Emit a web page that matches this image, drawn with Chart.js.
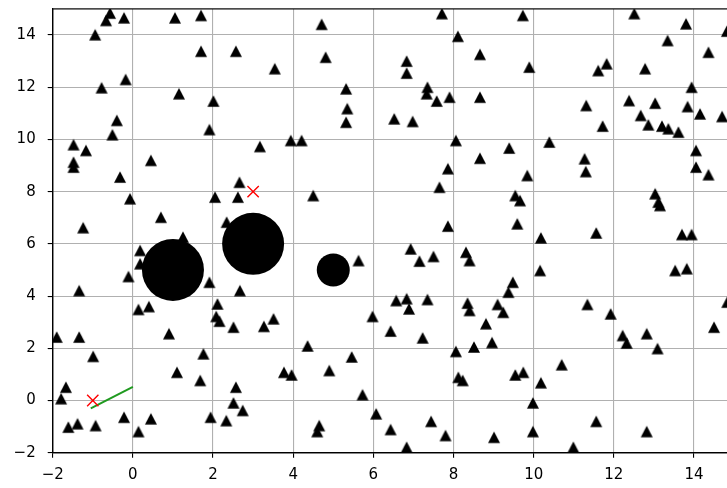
<!DOCTYPE html>
<html>
<head>
<meta charset="utf-8">
<script src="https://cdn.jsdelivr.net/npm/chart.js@4/dist/chart.umd.min.js"></script>
<style>
html, body { margin: 0; padding: 0; background: #fff; overflow: hidden; }
#wrap { width: 727px; height: 488px; overflow: hidden; }
canvas { display: block; }
</style>
</head>
<body>
<div id="wrap"><canvas id="c" width="760" height="488"></canvas></div>
<script>
// Landmark positions (triangles)
const landmarkX = [
  -0.57,-0.67,-0.22,-0.94,1.05,1.70,1.70,2.57,-0.78,-0.18,
  1.15,2.01,-0.40,1.91,7.71,4.71,8.11,4.81,3.54,6.83,
  6.83,8.66,5.32,7.35,7.33,7.58,7.90,8.66,5.35,5.32,
  6.52,6.98,9.73,12.51,13.80,14.82,13.34,14.36,9.89,11.61,
  11.82,12.78,13.94,11.31,12.38,13.03,13.84,14.15,14.70,12.67,
  11.72,12.86,13.20,13.36,13.61,-1.48,-1.17,-1.48,-1.48,-0.51,
  3.17,0.45,-0.32,-0.07,2.66,2.62,2.05,0.70,-1.24,1.25,
  2.34,3.94,4.21,8.06,8.66,7.86,7.65,4.50,7.86,9.39,
  10.39,11.27,11.30,9.84,14.05,14.05,14.36,9.54,9.66,13.03,
  13.11,13.15,9.59,10.18,11.56,13.70,13.94,0.18,0.18,-0.11,
  1.91,-1.34,2.67,0.14,0.40,2.11,2.08,2.16,2.51,3.27,
  3.51,0.90,-1.90,-1.34,-0.99,1.76,5.63,6.93,7.15,7.50,
  8.31,8.40,6.57,6.83,6.89,7.35,8.35,8.40,9.10,8.81,
  5.98,6.43,7.23,8.51,8.96,8.06,4.36,5.46,10.16,9.48,
  9.37,9.24,13.53,13.82,11.34,11.92,14.83,14.50,12.22,12.32,
  12.82,13.09,1.10,1.68,-1.67,-1.79,2.57,2.51,2.74,1.94,
  2.33,-0.22,0.45,0.14,-0.93,-1.38,-1.61,3.77,3.96,4.90,
  5.73,6.07,4.65,4.60,6.43,6.83,7.44,7.80,8.12,8.23,
  9.01,9.54,9.74,10.70,10.18,9.98,11.56,12.82,9.98,10.99
];
const landmarkY = [
  14.84,14.56,14.66,14.01,14.66,14.75,13.38,13.38,11.98,12.30,
  11.75,11.47,10.73,10.38,14.82,14.41,13.95,13.15,12.71,13.00,
  12.54,13.26,11.94,12.00,11.75,11.47,11.62,11.62,11.18,10.66,
  10.79,10.69,14.75,14.82,14.43,14.15,13.79,13.34,12.77,12.64,
  12.90,12.71,12.00,11.30,11.49,11.39,11.26,10.98,10.88,10.92,
  10.51,10.56,10.51,10.41,10.28,9.80,9.58,9.13,8.94,10.18,
  9.73,9.20,8.56,7.73,8.36,7.79,7.79,7.02,6.62,6.26,
  6.83,9.96,9.96,9.96,9.28,8.88,8.17,7.85,6.68,9.67,
  9.90,9.26,8.77,8.62,9.58,8.94,8.65,7.85,7.66,7.92,
  7.60,7.47,6.77,6.23,6.42,6.36,6.36,5.75,5.24,4.75,
  4.53,4.21,4.21,3.49,3.60,3.70,3.22,3.04,2.81,2.84,
  3.13,2.56,2.43,2.43,1.69,1.79,5.36,5.81,5.34,5.52,
  5.68,5.36,3.83,3.90,3.51,3.87,3.73,3.45,3.68,2.94,
  3.22,2.66,2.40,2.05,2.22,1.88,2.09,1.67,4.98,4.53,
  4.15,3.38,4.98,5.05,3.68,3.32,3.77,2.81,2.49,2.20,
  2.56,1.99,1.08,0.77,0.51,0.07,0.51,-0.09,-0.38,-0.64,
  -0.77,-0.64,-0.70,-1.19,-0.96,-0.89,-1.02,1.08,0.98,1.15,
  0.22,-0.51,-0.96,-1.19,-1.11,-1.79,-0.80,-1.34,0.89,0.77,
  -1.41,0.98,1.08,1.37,0.68,-0.09,-0.80,-1.19,-1.19,-1.79
];

// Obstacles
const bigObstacleX = [1, 3];
const bigObstacleY = [5, 6];
const smallObstacleX = [5];
const smallObstacleY = [5];

// Start and goal markers
const markerX = [-1, 3];
const markerY = [0, 8];

// Heading segment
const headingX = [-1.05, 0];
const headingY = [-0.30, 0.52];

// Axis ticks
const xTicks = [-2, 0, 2, 4, 6, 8, 10, 12, 14];
const yTicks = [-2, 0, 2, 4, 6, 8, 10, 12, 14];

const pts = (xs, ys) => xs.map((x, i) => ({ x: x, y: ys[i] }));

// Upward triangle whose bounding box is centred on the point
function triangleMarker(w, h) {
  const s = Math.ceil(Math.max(w, h)) + 2;
  const c = document.createElement('canvas');
  c.width = s; c.height = s;
  const g = c.getContext('2d');
  const cx = s / 2, cy = s / 2;
  g.beginPath();
  g.moveTo(cx, cy - h / 2);
  g.lineTo(cx + w / 2, cy + h / 2);
  g.lineTo(cx - w / 2, cy + h / 2);
  g.closePath();
  g.fillStyle = '#000';
  g.fill();
  return c;
}

const fmt = v => (v < 0 ? '\u2212' + Math.abs(v) : String(v));

// Axes frame drawn above the markers
const framePlugin = {
  id: 'frame',
  afterDatasetsDraw(chart) {
    const { ctx, chartArea: a } = chart;
    ctx.save();
    ctx.strokeStyle = '#000';
    ctx.lineWidth = 1.2;
    ctx.strokeRect(a.left, a.top, a.right - a.left, a.bottom - a.top);
    ctx.restore();
  }
};

const font = { family: 'DejaVu Sans', size: 15 };

new Chart(document.getElementById('c'), {
  type: 'scatter',
  data: {
    datasets: [
      {
        data: pts(markerX, markerY),
        pointStyle: 'crossRot',
        pointRadius: 8,
        borderColor: '#ff0000',
        backgroundColor: '#ff0000',
        borderWidth: 1.4,
        clip: 0
      },
      {
        type: 'line',
        data: pts(headingX, headingY),
        borderColor: '#1f9a1f',
        borderWidth: 2,
        pointRadius: 0,
        fill: false,
        clip: 0
      },
      {
        data: pts(landmarkX, landmarkY),
        pointStyle: triangleMarker(12, 11.5),
        pointRadius: 6,
        clip: 0
      },
      {
        data: pts(bigObstacleX, bigObstacleY),
        pointStyle: 'circle',
        pointRadius: 31,
        backgroundColor: '#000',
        borderWidth: 0,
        clip: 0
      },
      {
        data: pts(smallObstacleX, smallObstacleY),
        pointStyle: 'circle',
        pointRadius: 16.5,
        backgroundColor: '#000',
        borderWidth: 0,
        clip: 0
      }
    ]
  },
  options: {
    responsive: false,
    animation: false,
    devicePixelRatio: 1,
    layout: { autoPadding: false, padding: { top: 8.9, right: 25.9, left: 0, bottom: 0 } },
    plugins: { legend: { display: false }, tooltip: { enabled: false } },
    scales: {
      x: {
        type: 'linear',
        min: -2,
        max: 15,
        afterBuildTicks: s => { s.ticks = xTicks.map(v => ({ value: v })); },
        afterFit: s => { s.height = 35.3; s.paddingLeft = 0; s.paddingRight = 0; },
        grid: { color: '#b0b0b0', lineWidth: 1.1, tickColor: '#000', tickLength: 5, tickWidth: 1.1 },
        border: { color: '#000', width: 1.2 },
        ticks: { font: font, color: '#000', padding: 8, maxRotation: 0, callback: fmt }
      },
      y: {
        type: 'linear',
        min: -2,
        max: 15,
        afterBuildTicks: s => { s.ticks = yTicks.map(v => ({ value: v })); },
        afterFit: s => { s.width = 52.7; s.paddingTop = 0; s.paddingBottom = 0; },
        grid: { color: '#b0b0b0', lineWidth: 1.1, tickColor: '#000', tickLength: 5, tickWidth: 1.1 },
        border: { color: '#000', width: 1.2 },
        ticks: { font: font, color: '#000', padding: 12, callback: fmt }
      }
    }
  },
  plugins: [framePlugin]
});
</script>
</body>
</html>
